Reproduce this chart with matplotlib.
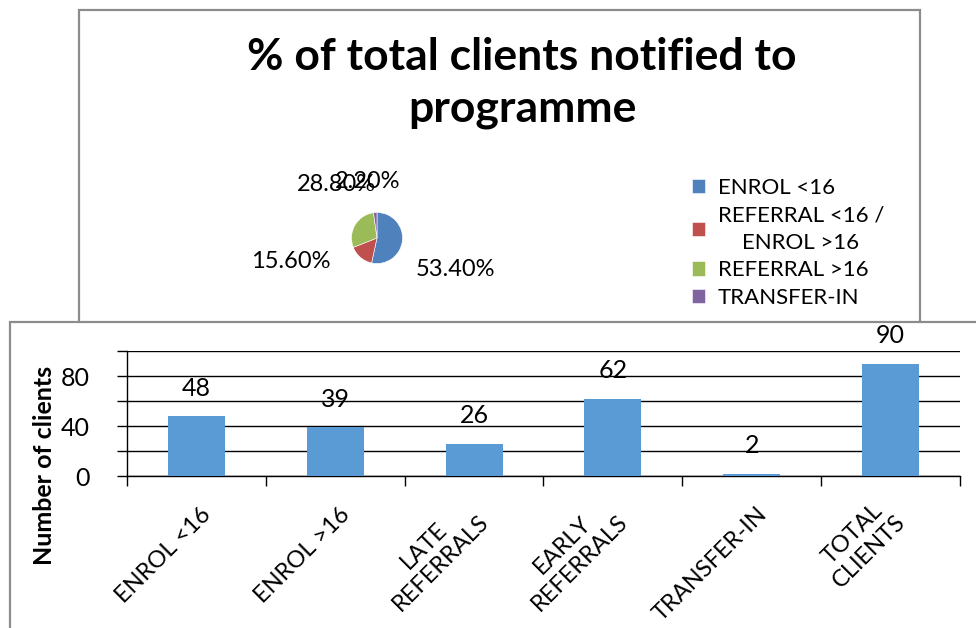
import matplotlib
matplotlib.use("Agg")
import matplotlib.pyplot as plt
from matplotlib.patches import Rectangle
from matplotlib.transforms import offset_copy
import numpy as np

plt.rcParams["font.family"] = ["Lato", "DejaVu Sans"]

# ---------------------------------------------------------------------------
# Data
# ---------------------------------------------------------------------------
pie_labels = ["ENROL <16", "REFERRAL <16 /\nENROL >16", "REFERRAL >16", "TRANSFER-IN"]
pie_values = [53.4, 15.6, 28.8, 2.2]
pie_colors = ["#4F81BD", "#C0504D", "#9BBB59", "#8064A2"]
# label positions as (angle in degrees, distance in radii)
pie_label_pos = [(-22, 3.3), (-165, 3.5), (127, 2.65), (99, 2.25)]

bar_cats = ["ENROL <16", "ENROL >16", "LATE\nREFERRALS", "EARLY\nREFERRALS",
            "TRANSFER-IN", "TOTAL\nCLIENTS"]
bar_values = [48, 39, 26, 62, 2, 90]

W, H = 976, 628
fig = plt.figure(figsize=(W / 100, H / 100), dpi=100)


def fx(px):
    return px / W


def fy(py):
    return 1 - py / H


# chart frames (top one partly hidden by the bottom one)
frame_col = "#8C8C8C"
fig.patches.append(Rectangle((fx(79), fy(340)), fx(920 - 79), (340 - 10) / H,
                             transform=fig.transFigure, facecolor="white",
                             edgecolor=frame_col, lw=1.6, zorder=1))
fig.patches.append(Rectangle((fx(10), fy(640)), fx(1000 - 10), (640 - 322) / H,
                             transform=fig.transFigure, facecolor="white",
                             edgecolor=frame_col, lw=1.6, zorder=2))

# ---------------------------------------------------------------------------
# Pie chart
# ---------------------------------------------------------------------------
fig.text(fx(522), fy(83), "% of total clients notified to\nprogramme",
         ha="center", va="center", fontsize=32, fontweight="bold",
         linespacing=1.35, zorder=3)

cx, cy, r = 377, 238, 25.5
half = 100
ax_pie = fig.add_axes([fx(cx - half), fy(cy + half), fx(2 * half), 2 * half / H])
ax_pie.set_zorder(3)
wedges, _ = ax_pie.pie(pie_values, colors=pie_colors, startangle=90,
                       counterclock=False, radius=1,
                       wedgeprops=dict(edgecolor="white", linewidth=0.4))
lim = half / r
ax_pie.set_xlim(-lim, lim)
ax_pie.set_ylim(-lim, lim)
ax_pie.set_aspect("equal")
ax_pie.axis("off")
for v, (ang, dist) in zip(pie_values, pie_label_pos):
    a = np.deg2rad(ang)
    ax_pie.text(dist * np.cos(a), dist * np.sin(a), f"{v:.2f}%",
                ha="center", va="center", fontsize=17)

leg = fig.legend(wedges, pie_labels, loc="upper left",
                 bbox_to_anchor=(fx(672), fy(158)), frameon=False,
                 fontsize=16, handlelength=0.6, handleheight=0.6,
                 handletextpad=0.55, labelspacing=0.34)
leg.set_zorder(3)
for t in leg.get_texts():
    t.set_multialignment("center")
    t.set_linespacing(1.45)

# ---------------------------------------------------------------------------
# Bar chart
# ---------------------------------------------------------------------------
ax = fig.add_axes([fx(127), fy(476), fx(960 - 127), (476 - 351) / H])
ax.set_zorder(4)
ax.patch.set_alpha(0)
x = np.arange(len(bar_cats))
bars = ax.bar(x, bar_values, width=0.41, color="#5B9BD5", zorder=3)
for b, v in zip(bars, bar_values):
    ax.annotate(str(v), (b.get_x() + b.get_width() / 2, v), xytext=(0, 20),
                textcoords="offset points", ha="center", va="center",
                fontsize=18)

ax.set_xlim(-0.5, len(bar_cats) - 0.5)
ax.set_ylim(0, 100)
ax.set_yticks(np.arange(0, 101, 20))
ax.set_yticklabels(["0", "", "40", "", "80", ""], fontsize=18)
ax.yaxis.grid(True, color="black", lw=1)
ax.set_axisbelow(True)
for s in ["top", "right"]:
    ax.spines[s].set_visible(False)
ax.spines["left"].set_linewidth(1)
ax.spines["bottom"].set_linewidth(1)
ax.tick_params(axis="y", length=7, width=1, pad=20)

ax.set_xticks(np.arange(-0.5, len(bar_cats), 1))
ax.set_xticklabels([])
ax.tick_params(axis="x", which="major", length=7, width=1)
ax.set_xticks(x, minor=True)
ax.set_xticklabels(bar_cats, minor=True, rotation=45, ha="right",
                   rotation_mode="anchor", fontsize=17, multialignment="center")
ax.tick_params(axis="x", which="minor", length=0, pad=20)
# two-line labels sit further left and higher, like Excel does
for lbl, cat in zip(ax.get_xticklabels(minor=True), bar_cats):
    sx, sy = (-13, 10) if "\n" in cat else (4, 0)
    lbl.set_transform(offset_copy(lbl.get_transform(), fig=fig, x=sx, y=sy,
                                  units="dots"))

fig.text(fx(45), fy(465), "Number of clients", rotation=90, ha="center",
         va="center", fontsize=18, fontweight="bold", zorder=5)

fig.savefig("out.png", dpi=100)
